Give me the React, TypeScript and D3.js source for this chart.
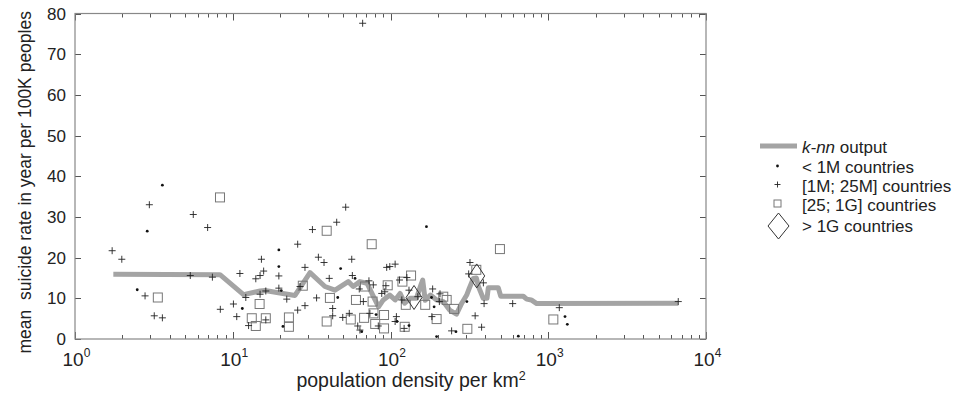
import React, { useEffect, useRef } from "react";
import * as d3 from "d3";

// < 1M countries
const smallDensity = [3.58, 2.87, 2.48, 11.5, 19.6, 19.6, 20.3, 20.8, 48.3, 59.6, 46.3, 169, 65.7, 81, 110, 131, 196, 189, 260, 305, 182, 646, 1277, 1321];
const smallRate = [37.8, 26.5, 12.1, 7.5, 21.9, 17.8, 11.9, 3.1, 17.3, 14.9, 10.2, 27.6, 1.8, 6.0, 4.3, 3.3, 0.6, 7.9, 1.8, 9.2, 10.2, 0.7, 5.5, 3.6];

// [1M; 25M] countries
const midDensity = [1.72, 1.98, 2.96, 5.62, 6.93, 5.38, 7.43, 2.78, 3.18, 3.58, 8.34, 10.1, 10.6, 11.1, 12.1, 12.6, 14.0, 14.9, 15.2, 15.7, 14.9, 16.2, 16.2, 19.6, 19.6, 22, 25.8, 28.7, 26.7, 28.7, 25.8, 32, 34.9, 37.9, 34, 40.9, 43, 43, 49.8, 45.6, 52, 56.8, 57.3, 54.8, 62, 64, 73, 77.8, 74, 67.3, 63.4, 94.6, 107, 99, 93.5, 92, 109, 107, 122, 83.7, 88, 114, 127, 118, 131, 149, 185, 206, 204, 183, 244, 319, 313, 344, 378, 392, 388, 595, 1175, 6670, 66.6];
const midRate = [21.7, 19.6, 33.0, 30.6, 27.4, 15.6, 15.2, 10.6, 5.7, 5.2, 7.3, 8.6, 5.5, 16.1, 10.2, 3.3, 14.8, 15.6, 19.6, 16.7, 11.0, 11.8, 4.7, 15.5, 12.5, 9.8, 23.3, 17.6, 12.9, 8.2, 7.1, 26.9, 20.1, 18.8, 10.1, 14.9, 7.5, 5.7, 5.3, 28.7, 32.4, 19.6, 15.6, 6.3, 3.2, 2.2, 14.3, 13.3, 6.3, 9.2, 12.3, 17.6, 18.4, 17.8, 13.1, 11.6, 5.5, 4.3, 2.6, 3.2, 11.2, 14.5, 15.1, 9.6, 12.0, 10.4, 12.3, 11.1, 9.2, 5.5, 2.0, 18.8, 16.0, 5.7, 2.9, 8.7, 13.8, 8.7, 7.7, 9.2, 77.6];

// [25; 1G] countries
const largeDensity = [8.3, 3.35, 14.8, 13.2, 16.2, 14.0, 22.7, 22.7, 27.8, 39.4, 41.3, 39.4, 56, 68.9, 76, 60.4, 77, 78, 80, 91, 91, 96, 119, 135, 125, 123, 166, 196, 216, 227, 253, 307, 350, 494, 1077, 68];
const largeRate = [34.8, 10.2, 8.6, 5.1, 5.1, 3.2, 5.3, 3.0, 13.1, 26.6, 10.1, 4.3, 4.8, 12.9, 23.3, 9.6, 9.2, 6.3, 3.7, 5.9, 2.6, 13.2, 14.1, 15.6, 8.4, 3.0, 8.4, 4.9, 10.4, 9.6, 7.4, 2.5, 17, 22.1, 4.8, 5.2];

// > 1G countries
const hugeDensity = [141, 352];
const hugeRate = [10.2, 15.5];

// k-nn output
const knnDensity = [1.75, 8.3, 11.7, 14.9, 16, 19.9, 24.8, 30.9, 38.4, 44.5, 54, 58, 64, 71, 78, 84, 90, 99, 107, 115, 123, 133, 146, 155, 160, 166, 179, 196, 216, 237, 262, 283, 304, 316, 335, 350, 361, 387, 409, 417, 482, 500, 695, 730, 780, 845, 6670];
const knnRate = [15.9, 15.8, 10.9, 11.8, 11.9, 11.3, 10.7, 16.3, 12.9, 12.0, 14.1, 12.9, 14.1, 13.7, 10.4, 7.9, 9.6, 10.8, 9.6, 11.2, 8.8, 10.0, 10.0, 13.0, 14.5, 9.5, 10.8, 9.6, 9.2, 7.1, 6.1, 8.8, 10.8, 12.5, 14.9, 15.0, 12.9, 10.0, 10.0, 12.6, 12.6, 10.5, 10.5, 9.8, 9.6, 8.7, 8.8];

const yTicks = [0, 10, 20, 30, 40, 50, 60, 70, 80];
const xDecades = [0, 1, 2, 3, 4];
const legendLabels = ["output", "< 1M countries", "[1M; 25M] countries", "[25; 1G] countries", "> 1G countries"];

const FONT = "'Liberation Sans', Arial, Helvetica, sans-serif";

const App = () => {
  const svgRef = useRef<SVGSVGElement>(null);

  useEffect(() => {
    const width = 962;
    const height = 394;
    const margin = { top: 13.5, right: 256, bottom: 55, left: 75 };

    const svg = d3.select(svgRef.current).attr("width", width).attr("height", height);
    svg.selectAll("*").remove();

    const x = d3.scaleLog().domain([1, 1e4]).range([margin.left, width - margin.right]);
    const y = d3.scaleLinear().domain([0, 80]).range([height - margin.bottom, margin.top]);
    const [x0, x1] = x.range();
    const [y0, y1] = y.range();

    // ticks (inward, on all four sides)
    const g = svg.append("g").attr("stroke", "#555").attr("stroke-width", 1);
    x.ticks().forEach((t) => {
      const major = Number.isInteger(Math.log10(t));
      const len = major ? 7 : 4;
      const px = Math.round(x(t)) + 0.5;
      g.append("line").attr("x1", px).attr("x2", px).attr("y1", y0).attr("y2", y0 - len);
      g.append("line").attr("x1", px).attr("x2", px).attr("y1", y1).attr("y2", y1 + len);
    });
    yTicks.forEach((t) => {
      const py = Math.round(y(t)) + 0.5;
      g.append("line").attr("x1", x0).attr("x2", x0 + 6).attr("y1", py).attr("y2", py);
      g.append("line").attr("x1", x1).attr("x2", x1 - 6).attr("y1", py).attr("y2", py);
    });

    // frame
    svg
      .append("rect")
      .attr("x", x0)
      .attr("y", y1)
      .attr("width", x1 - x0)
      .attr("height", y0 - y1)
      .attr("fill", "none")
      .attr("stroke", "#888")
      .attr("stroke-width", 1.2);

    // tick labels
    svg
      .append("g")
      .selectAll("text")
      .data(yTicks)
      .join("text")
      .attr("x", x0 - 9)
      .attr("y", (d) => y(d) + 6)
      .attr("text-anchor", "end")
      .attr("font-family", FONT)
      .attr("font-size", 17)
      .attr("fill", "#222")
      .text((d) => d);

    const xl = svg
      .append("g")
      .selectAll("text")
      .data(xDecades)
      .join("text")
      .attr("x", (d) => x(Math.pow(10, d)) - 12.5)
      .attr("y", 366)
      .attr("font-family", FONT)
      .attr("font-size", 19)
      .attr("fill", "#222");
    xl.append("tspan").text("10");
    xl.append("tspan").attr("dy", -9).attr("font-size", 12).text((d) => d);

    // axis titles
    const xt = svg
      .append("text")
      .attr("x", 411)
      .attr("y", 387)
      .attr("text-anchor", "middle")
      .attr("font-family", FONT)
      .attr("font-size", 19.5)
      .attr("fill", "#222");
    xt.append("tspan").text("population density per km");
    xt.append("tspan").attr("dy", -7).attr("font-size", 12.5).text("2");

    svg
      .append("text")
      .attr("transform", `translate(31,${(y0 + y1) / 2 + 6}) rotate(-90)`)
      .attr("text-anchor", "middle")
      .attr("font-family", FONT)
      .attr("font-size", 17.5)
      .attr("fill", "#222")
      .attr("xml:space", "preserve")
      .text("mean  suicide rate in year per 100K peoples");

    // k-nn line
    const knn = knnDensity.map((d, i) => [d, knnRate[i]] as [number, number]);
    svg
      .append("path")
      .datum(knn)
      .attr("fill", "none")
      .attr("stroke", "#a4a4a4")
      .attr("stroke-width", 5)
      .attr("stroke-linejoin", "round")
      .attr("d", d3.line<[number, number]>().x((d) => x(d[0])).y((d) => y(d[1])));

    // marks
    const plus = (sel: any, cx: number, cy: number, s: number) => {
      sel
        .append("path")
        .attr("d", `M${cx - s},${cy}H${cx + s}M${cx},${cy - s}V${cy + s}`)
        .attr("stroke", "#222")
        .attr("stroke-width", 0.9)
        .attr("fill", "none");
    };
    const square = (sel: any, cx: number, cy: number, s: number) => {
      sel
        .append("rect")
        .attr("x", cx - s)
        .attr("y", cy - s)
        .attr("width", 2 * s)
        .attr("height", 2 * s)
        .attr("fill", "none")
        .attr("stroke", "#777")
        .attr("stroke-width", 1);
    };
    const diamond = (sel: any, cx: number, cy: number, w: number, h: number) => {
      sel
        .append("path")
        .attr("d", `M${cx},${cy - h}L${cx + w},${cy}L${cx},${cy + h}L${cx - w},${cy}Z`)
        .attr("fill", "none")
        .attr("stroke", "#333")
        .attr("stroke-width", 1);
    };

    const marks = svg.append("g");
    largeDensity.forEach((d, i) => square(marks, x(d), y(largeRate[i]), 4.5));
    hugeDensity.forEach((d, i) => diamond(marks, x(d), y(hugeRate[i]), 8, 12));
    midDensity.forEach((d, i) => plus(marks, x(d), y(midRate[i]), 3.5));
    smallDensity.forEach((d, i) =>
      marks.append("circle").attr("cx", x(d)).attr("cy", y(smallRate[i])).attr("r", 1.4).attr("fill", "#111")
    );

    // legend
    const lg = svg.append("g");
    const baselines = [153, 173, 192, 211, 232];
    const centers = [146, 166, 184.5, 203.5, 226];
    const sx = 777.5;
    lg.append("line")
      .attr("x1", 760)
      .attr("x2", 797)
      .attr("y1", centers[0])
      .attr("y2", centers[0])
      .attr("stroke", "#a4a4a4")
      .attr("stroke-width", 5);
    lg.append("circle").attr("cx", sx).attr("cy", centers[1]).attr("r", 1.4).attr("fill", "#111");
    plus(lg, sx, centers[2], 3);
    square(lg, sx, centers[3], 3.5);
    diamond(lg, sx + 1, centers[4], 10.5, 13);

    legendLabels.forEach((label, i) => {
      const t = lg
        .append("text")
        .attr("x", 802)
        .attr("y", baselines[i])
        .attr("font-family", FONT)
        .attr("font-size", 17)
        .attr("fill", "#222");
      if (i === 0) {
        t.append("tspan").attr("font-style", "italic").text("k-nn");
        t.append("tspan").text(" " + label);
      } else {
        t.text(label);
      }
    });
  }, []);

  return (
    <div style={{ position: "absolute", left: 0, top: 0, background: "#fff" }}>
      <svg ref={svgRef} style={{ display: "block" }} />
    </div>
  );
};

export default App;
